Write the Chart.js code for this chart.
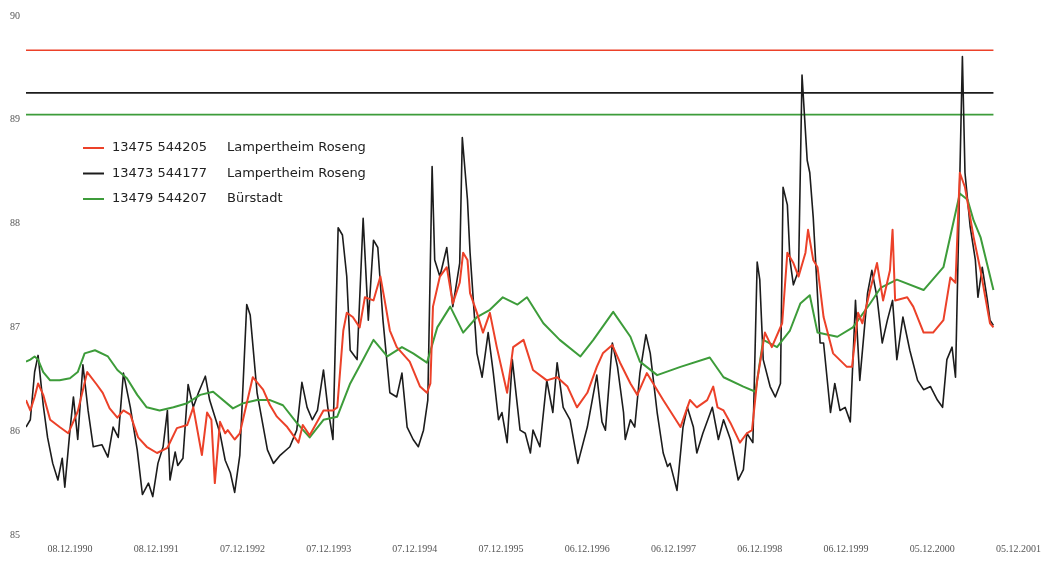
<!DOCTYPE html>
<html>
<head>
<meta charset="utf-8">
<script src="https://cdn.jsdelivr.net/npm/chart.js@4"></script>
<style>
  body { margin: 0; background: #fff; }
  #chartBox { width: 1055px; height: 564px; }
</style>
</head>
<body>
<div id="chartBox"><canvas id="chart"></canvas></div>
<script>
// x axis: decimal years, one tick per measurement date in December
const tickYears = [1990.93, 1991.93, 1992.93, 1993.93, 1994.93, 1995.93, 1996.93, 1997.93, 1998.93, 1999.93, 2000.93, 2001.93];
const tickLabels = ['08.12.1990', '08.12.1991', '07.12.1992', '07.12.1993', '07.12.1994', '07.12.1995',
  '06.12.1996', '06.12.1997', '06.12.1998', '06.12.1999', '05.12.2000', '05.12.2001'];

const seriesIds = ['13475 544205', '13473 544177', '13479 544207'];
const seriesNames = ['Lampertheim Roseng', 'Lampertheim Roseng', 'Bürstadt'];
const seriesColors = ['#ec4129', '#1c1c1c', '#3d9c3a'];

// horizontal reference levels (same order as the series)
const limitLevels = [89.67, 89.26, 89.05];

// 13475 544205 Lampertheim Roseng
const redDates = [
  1990.42, 1990.47, 1990.52, 1990.56, 1990.62, 1990.70, 1990.81, 1990.91, 1991.02, 1991.13,
  1991.24, 1991.31, 1991.39, 1991.48, 1991.55, 1991.63, 1991.72, 1991.82, 1991.94, 1992.06,
  1992.17, 1992.29, 1992.36, 1992.46, 1992.52, 1992.57, 1992.61, 1992.67, 1992.73, 1992.76,
  1992.84, 1992.90, 1993.05, 1993.17, 1993.25, 1993.33, 1993.45, 1993.58, 1993.63, 1993.71,
  1993.87, 1993.98, 1994.03, 1994.10, 1994.14, 1994.21, 1994.29, 1994.35, 1994.45, 1994.53,
  1994.58, 1994.64, 1994.72, 1994.87, 1994.99, 1995.07, 1995.11, 1995.14, 1995.22, 1995.30,
  1995.37, 1995.45, 1995.49, 1995.54, 1995.57, 1995.65, 1995.72, 1995.80, 1995.88, 1996.00,
  1996.07, 1996.19, 1996.30, 1996.46, 1996.58, 1996.70, 1996.81, 1996.93, 1997.04, 1997.11,
  1997.22, 1997.31, 1997.43, 1997.51, 1997.62, 1997.81, 1998.01, 1998.12, 1998.20, 1998.32,
  1998.39, 1998.44, 1998.51, 1998.59, 1998.70, 1998.78, 1998.84, 1998.90, 1998.99, 1999.07,
  1999.19, 1999.25, 1999.32, 1999.38, 1999.46, 1999.49, 1999.55, 1999.60, 1999.67, 1999.78,
  1999.94, 2000.00, 2000.07, 2000.12, 2000.21, 2000.29, 2000.36, 2000.44, 2000.47, 2000.50,
  2000.64, 2000.71, 2000.83, 2000.94, 2001.06, 2001.14, 2001.20, 2001.25, 2001.31, 2001.41,
  2001.49, 2001.60, 2001.64
];
const redLevels = [
  86.30, 86.20, 86.33, 86.46, 86.35, 86.11, 86.04, 85.98, 86.19, 86.57,
  86.45, 86.37, 86.22, 86.13, 86.20, 86.16, 85.94, 85.85, 85.79, 85.84,
  86.03, 86.06, 86.23, 85.77, 86.18, 86.11, 85.50, 86.09, 85.98, 86.01,
  85.92, 85.98, 86.52, 86.40, 86.25, 86.14, 86.04, 85.89, 86.06, 85.96,
  86.20, 86.20, 86.23, 86.97, 87.14, 87.10, 87.00, 87.29, 87.26, 87.49,
  87.26, 86.97, 86.81, 86.67, 86.43, 86.37, 86.46, 87.20, 87.49, 87.58,
  87.23, 87.43, 87.72, 87.65, 87.33, 87.14, 86.95, 87.14, 86.81, 86.37,
  86.81, 86.88, 86.59, 86.49, 86.52, 86.43, 86.23, 86.37, 86.62, 86.75,
  86.83, 86.66, 86.46, 86.35, 86.56, 86.30, 86.04, 86.30, 86.23, 86.30,
  86.43, 86.23, 86.20, 86.08, 85.89, 85.98, 86.01, 86.49, 86.95, 86.81,
  87.04, 87.72, 87.62, 87.49, 87.72, 87.94, 87.65, 87.58, 87.10, 86.75,
  86.62, 86.62, 87.14, 87.04, 87.36, 87.62, 87.26, 87.55, 87.94, 87.26,
  87.29, 87.20, 86.95, 86.95, 87.07, 87.48, 87.43, 88.49, 88.35, 87.87,
  87.55, 87.04, 87.00
];

// 13473 544177 Lampertheim Roseng
const blackDates = [
  1990.42, 1990.47, 1990.52, 1990.56, 1990.62, 1990.67, 1990.73, 1990.79, 1990.84, 1990.87,
  1990.93, 1990.97, 1991.02, 1991.08, 1991.14, 1991.20, 1991.30, 1991.37, 1991.43, 1991.49,
  1991.55, 1991.63, 1991.71, 1991.77, 1991.84, 1991.89, 1991.95, 1992.01, 1992.06, 1992.09,
  1992.15, 1992.18, 1992.24, 1992.30, 1992.36, 1992.42, 1992.50, 1992.55, 1992.67, 1992.73,
  1992.79, 1992.84, 1992.90, 1992.98, 1993.02, 1993.10, 1993.22, 1993.29, 1993.37, 1993.48,
  1993.56, 1993.62, 1993.68, 1993.74, 1993.80, 1993.87, 1993.92, 1993.98, 1994.04, 1994.09,
  1994.14, 1994.18, 1994.26, 1994.33, 1994.39, 1994.45, 1994.50, 1994.56, 1994.64, 1994.72,
  1994.78, 1994.84, 1994.91, 1994.97, 1995.03, 1995.08, 1995.13, 1995.16, 1995.22, 1995.30,
  1995.37, 1995.45, 1995.48, 1995.54, 1995.57, 1995.65, 1995.71, 1995.78, 1995.84, 1995.90,
  1995.94, 1996.00, 1996.06, 1996.15, 1996.21, 1996.27, 1996.30, 1996.38, 1996.46, 1996.53,
  1996.58, 1996.65, 1996.73, 1996.82, 1996.93, 1997.04, 1997.10, 1997.14, 1997.22, 1997.28,
  1997.35, 1997.37, 1997.43, 1997.48, 1997.54, 1997.61, 1997.66, 1997.74, 1997.81, 1997.86,
  1997.89, 1997.97, 1998.04, 1998.09, 1998.16, 1998.20, 1998.27, 1998.38, 1998.45, 1998.51,
  1998.59, 1998.68, 1998.74, 1998.78, 1998.85, 1998.90, 1998.93, 1998.97, 1999.05, 1999.11,
  1999.17, 1999.20, 1999.25, 1999.28, 1999.32, 1999.38, 1999.42, 1999.48, 1999.51, 1999.55,
  1999.63, 1999.67, 1999.75, 1999.80, 1999.86, 1999.92, 1999.98, 2000.04, 2000.09, 2000.18,
  2000.23, 2000.29, 2000.35, 2000.41, 2000.47, 2000.52, 2000.59, 2000.67, 2000.76, 2000.83,
  2000.91, 2000.99, 2001.05, 2001.10, 2001.16, 2001.20, 2001.28, 2001.31, 2001.37, 2001.43,
  2001.46, 2001.51, 2001.57, 2001.60, 2001.64
];
const blackLevels = [
  86.04, 86.11, 86.57, 86.73, 86.25, 85.94, 85.69, 85.53, 85.74, 85.46,
  86.01, 86.33, 85.92, 86.64, 86.20, 85.85, 85.87, 85.75, 86.04, 85.94,
  86.56, 86.23, 85.82, 85.39, 85.50, 85.37, 85.69, 85.85, 86.20, 85.53,
  85.80, 85.67, 85.74, 86.45, 86.23, 86.37, 86.53, 86.30, 85.98, 85.72,
  85.60, 85.41, 85.77, 87.22, 87.12, 86.37, 85.82, 85.69, 85.77, 85.85,
  86.01, 86.47, 86.23, 86.11, 86.20, 86.59, 86.23, 85.92, 87.96, 87.89,
  87.49, 86.78, 86.69, 88.05, 87.07, 87.84, 87.77, 87.07, 86.37, 86.33,
  86.56, 86.04, 85.92, 85.85, 86.01, 86.30, 88.55, 87.65, 87.49, 87.77,
  87.20, 87.62, 88.83, 88.23, 87.72, 86.75, 86.52, 86.95, 86.56, 86.11,
  86.18, 85.89, 86.69, 86.01, 85.98, 85.79, 86.01, 85.85, 86.49, 86.18,
  86.66, 86.23, 86.11, 85.69, 86.04, 86.54, 86.09, 86.01, 86.85, 86.62,
  86.18, 85.92, 86.11, 86.04, 86.56, 86.93, 86.75, 86.18, 85.79, 85.66,
  85.69, 85.43, 86.04, 86.23, 86.04, 85.79, 85.98, 86.23, 85.92, 86.11,
  85.92, 85.53, 85.63, 85.98, 85.89, 87.63, 87.46, 86.69, 86.43, 86.33,
  86.46, 88.35, 88.18, 87.65, 87.41, 87.55, 89.43, 88.61, 88.49, 88.06,
  86.85, 86.85, 86.18, 86.46, 86.20, 86.23, 86.09, 87.26, 86.49, 87.33,
  87.55, 87.29, 86.85, 87.07, 87.26, 86.69, 87.10, 86.78, 86.49, 86.40,
  86.43, 86.30, 86.23, 86.69, 86.81, 86.52, 89.61, 88.49, 87.97, 87.65,
  87.29, 87.58, 87.26, 87.07, 87.02
];

// 13479 544207 Bürstadt
const greenDates = [
  1990.42, 1990.47, 1990.52, 1990.56, 1990.62, 1990.70, 1990.81, 1990.93, 1991.02, 1991.10,
  1991.22, 1991.37, 1991.48, 1991.59, 1991.71, 1991.82, 1991.97, 1992.13, 1992.29, 1992.44,
  1992.59, 1992.82, 1992.94, 1993.10, 1993.25, 1993.40, 1993.56, 1993.71, 1993.87, 1994.03,
  1994.18, 1994.33, 1994.45, 1994.61, 1994.78, 1994.91, 1995.07, 1995.19, 1995.34, 1995.49,
  1995.65, 1995.80, 1995.95, 1996.12, 1996.23, 1996.42, 1996.61, 1996.85, 1997.00, 1997.23,
  1997.43, 1997.54, 1997.74, 1998.01, 1998.35, 1998.51, 1998.74, 1998.88, 1998.97, 1999.13,
  1999.28, 1999.40, 1999.51, 1999.60, 1999.83, 2000.01, 2000.21, 2000.33, 2000.52, 2000.83,
  2001.06, 2001.25, 2001.34, 2001.41, 2001.49, 2001.64
];
const greenLevels = [
  86.67, 86.69, 86.72, 86.69, 86.57, 86.49, 86.49, 86.51, 86.57, 86.75,
  86.78, 86.72, 86.59, 86.51, 86.35, 86.23, 86.20, 86.23, 86.27, 86.35,
  86.38, 86.22, 86.27, 86.30, 86.30, 86.25, 86.08, 85.94, 86.11, 86.14,
  86.46, 86.69, 86.88, 86.72, 86.81, 86.75, 86.66, 87.00, 87.20, 86.95,
  87.10, 87.17, 87.29, 87.22, 87.29, 87.04, 86.88, 86.72, 86.88, 87.15,
  86.91, 86.67, 86.54, 86.62, 86.71, 86.52, 86.43, 86.38, 86.88, 86.81,
  86.97, 87.23, 87.31, 86.95, 86.91, 87.00, 87.23, 87.38, 87.46, 87.36,
  87.58, 88.29, 88.23, 88.03, 87.87, 87.36
];

const allDates = [redDates, blackDates, greenDates];
const allLevels = [redLevels, blackLevels, greenLevels];

const toPoints = (dates, levels) => dates.map((d, i) => ({ x: d, y: levels[i] }));

const seriesSets = seriesIds.map((id, i) => ({
  label: id + ' ' + seriesNames[i],
  data: toPoints(allDates[i], allLevels[i]),
  borderColor: seriesColors[i],
  borderWidth: i === 1 ? 1.6 : 2,
  borderJoinStyle: 'round',
  pointRadius: 0,
  tension: 0,
  order: i === 0 ? 0 : (i === 2 ? 1 : 2)
}));

const limitSets = limitLevels.map((lvl, i) => ({
  label: 'limit ' + seriesIds[i],
  data: [{ x: allDates[i][0], y: lvl }, { x: allDates[i][allDates[i].length - 1], y: lvl }],
  borderColor: seriesColors[i],
  borderWidth: 1.7,
  pointRadius: 0,
  order: 3
}));

// legend drawn inside the plot, like the original
const inlineLegend = {
  id: 'inlineLegend',
  afterDatasetsDraw(chart) {
    const ctx = chart.ctx;
    ctx.save();
    ctx.font = '13px "DejaVu Sans"';
    ctx.textBaseline = 'middle';
    seriesIds.forEach((id, i) => {
      const y = 148 + i * 25.5;
      ctx.strokeStyle = seriesColors[i];
      ctx.lineWidth = 2;
      ctx.beginPath();
      ctx.moveTo(83, y);
      ctx.lineTo(104, y);
      ctx.stroke();
      ctx.fillStyle = '#222';
      ctx.fillText(id, 112, y);
      ctx.fillText(seriesNames[i], 227, y);
    });
    ctx.restore();
  }
};

const ctx = document.querySelector('#chart').getContext('2d');
new Chart(ctx, {
  type: 'line',
  data: { datasets: [...seriesSets, ...limitSets] },
  plugins: [inlineLegend],
  options: {
    responsive: true,
    maintainAspectRatio: false,
    animation: false,
    layout: { padding: { top: 16, right: 15, left: 0, bottom: 0 } },
    plugins: {
      legend: { display: false },
      tooltip: { enabled: false }
    },
    scales: {
      x: {
        type: 'linear',
        min: 1990.42,
        max: 2002.18,
        grid: { display: false, drawTicks: false },
        border: { display: false },
        afterBuildTicks: scale => { scale.ticks = tickYears.map(v => ({ value: v })); },
        afterFit: scale => { scale.height = 29; },
        ticks: {
          autoSkip: false,
          maxRotation: 0,
          padding: 8,
          color: '#555',
          font: { family: '"Liberation Serif", serif', size: 10 },
          callback: (v, i) => tickLabels[i]
        }
      },
      y: {
        min: 85,
        max: 90,
        grid: { display: false, drawTicks: false },
        border: { display: false },
        afterFit: scale => { scale.width = 26; },
        ticks: {
          stepSize: 1,
          padding: 6,
          color: '#555',
          font: { family: '"Liberation Serif", serif', size: 10 }
        }
      }
    }
  }
});
</script>
</body>
</html>
